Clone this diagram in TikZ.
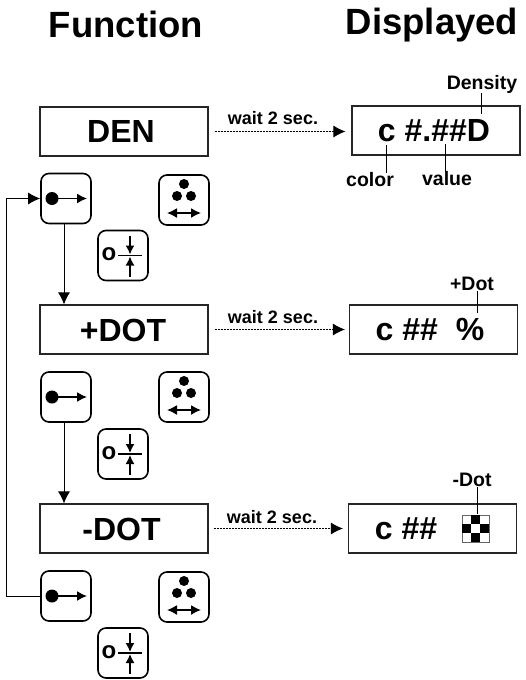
\documentclass[tikz,border=0pt]{standalone}
\usepackage{fontspec}
\setmainfont{Liberation Sans}
\usetikzlibrary{arrows.meta, calc, positioning}
\tikzstyle{fnbox} = [draw=black!85, line width=1.1pt, minimum width=168pt, minimum height=49pt, inner sep=0pt]
\tikzstyle{showbox} = [draw=black!85, line width=1.1pt, minimum width=168pt, minimum height=49pt, inner sep=0pt]
\tikzstyle{boxtxt} = [inner sep=0pt, font=\fontsize{32}{32}\selectfont\bfseries]
\tikzstyle{keybox} = [draw=black, line width=1.6pt, rounded corners=8pt, minimum size=50pt, inner sep=0pt]
\tikzstyle{head} = [inner sep=0pt, font=\fontsize{36.5}{37}\selectfont\bfseries]
\tikzstyle{tag} = [inner sep=0pt, font=\fontsize{19.5}{20}\selectfont\bfseries]
\tikzstyle{waitlabel} = [inner sep=0pt, font=\fontsize{18}{18}\selectfont\bfseries]
\tikzstyle{arrow} = [line width=0.9pt, -{Latex[length=12pt,width=12pt]}]
\tikzstyle{waitarrow} = [line width=0.9pt, dash pattern=on 2pt off 1pt, -{Latex[length=12pt,width=12pt]}]
\tikzstyle{icon} = [line width=1.5pt]
\tikzstyle{leader} = [line width=0.9pt]
\begin{document}
\begin{tikzpicture}[x=1pt, y=-1pt]
	\useasboundingbox (0,0) rectangle (526,680);
	% titles
	\node (titlefn) [head] at (126,24) {Function};
	\node (titleshow) [head] at (432,25) {Displayed};
	% function boxes
	\node (den) [fnbox] at (124,131.5) {};
	\node (plusdot) [fnbox] at (124,329.5) {};
	\node (minusdot) [fnbox] at (124,528.5) {};
	\node (dentxt) [boxtxt] at (121,131.5) {DEN};
	\node (plustxt) [boxtxt] at (123,330) {+DOT};
	\node (minustxt) [boxtxt] at (121.5,529) {-DOT};
	% displayed boxes
	\node (showden) [showbox] at (436,130.5) {};
	\node (showplus) [showbox] at (433.5,329.5) {};
	\node (showminus) [showbox] at (432.5,528.5) {};
	\node (txtden) [boxtxt] at (434,131) {c \#.\#\#D};
	\node (txtplus) [boxtxt] at (430,330) {c \#\#\ \ \%};
	\node (txtminus) [boxtxt] at (406,529) {c \#\#};
	% keys
	\foreach \k/\ya/\yb/\yc in {1/198.5/200/255.5, 2/397/397/454, 3/596/597/653}{
		\node (enter\k) [keybox] at (66,\ya) {};
		\fill ($(enter\k)+(-14,0)$) circle (6.5);
		\draw[icon, -{Latex[length=10pt,width=10pt]}] ($(enter\k)+(-14,0)$) -- ($(enter\k)+(21,0)$);
		\node (dots\k) [keybox] at (184,\yb) {};
		\fill ($(dots\k)+(0,-16)$) circle (5);
		\fill ($(dots\k)+(-7,-4)$) circle (5);
		\fill ($(dots\k)+(7,-4)$) circle (5);
		\draw[icon, {Latex[length=10pt,width=10pt]}-{Latex[length=10pt,width=10pt]}] ($(dots\k)+(-17,13)$) -- ($(dots\k)+(17,13)$);
		\node (zero\k) [keybox] at (123,\yc) {};
		\node (zerotxt\k) [inner sep=0pt, font=\fontsize{24}{24}\selectfont\bfseries] at ($(zero\k)+(-14,-1)$) {o};
		\draw[icon] ($(zero\k)+(-5,0)$) -- ($(zero\k)+(19,0)$);
		\draw[icon, -{Latex[length=9pt,width=9pt]}] ($(zero\k)+(7,-20)$) -- ($(zero\k)+(7,-1)$);
		\draw[icon, -{Latex[length=9pt,width=9pt]}] ($(zero\k)+(7,21)$) -- ($(zero\k)+(7,1)$);
	}
	% flow
	\draw[arrow] ([xshift=-2pt]enter1.south) -- ([xshift=-2pt]enter1.south |- plusdot.north);
	\draw[arrow] ([xshift=-2pt]enter2.south) -- ([xshift=-2pt]enter2.south |- minusdot.north);
	\draw[arrow] (enter3.west) -| (6,198.5) -- (enter1.west);
	% wait 2 sec.
	\draw[waitarrow] ([xshift=6pt]den.east) -- ([xshift=-6pt]den.east -| showden.west);
	\draw[waitarrow] ([xshift=6pt]plusdot.east) -- ([xshift=-4pt]plusdot.east -| showplus.west);
	\draw[waitarrow] ([xshift=5pt]minusdot.east) -- ([xshift=-5pt]minusdot.east -| showminus.west);
	\node (wait1) [waitlabel] at (273,118) {wait 2 sec.};
	\node (wait2) [waitlabel] at (273,317) {wait 2 sec.};
	\node (wait3) [waitlabel] at (272,517) {wait 2 sec.};
	% labels
	\node (density) [tag] at (482,84) {Density};
	\node (color) [tag] at (370,180) {color};
	\node (value) [tag] at (447,179) {value};
	\node (plustag) [tag] at (472,284) {+Dot};
	\node (minustag) [tag] at (472,480) {-Dot};
	\coordinate (cden) at (481,114);
	\coordinate (ccolor) at (386,145);
	\coordinate (cvalue) at (445,144);
	\coordinate (cplus) at (477,313);
	\coordinate (cminus) at (477,514);
	\draw[leader] (density.south -| cden) -- (cden);
	\draw[leader] (color.north -| ccolor) -- (ccolor);
	\draw[leader] (value.north -| cvalue) -- (cvalue);
	\draw[leader] (plustag.south -| cplus) -- (cplus);
	\draw[leader] (minustag.south -| cminus) -- (cminus);
	% dither square
	\node (dither) [draw=black!60, line width=0.5pt, minimum size=27pt, inner sep=0pt, anchor=north west] at (462,515) {};
	\fill ($(dither.north west)+(9,0)$) rectangle +(9,9);
	\fill ($(dither.north west)+(0,9)$) rectangle +(9,9);
	\fill ($(dither.north west)+(18,9)$) rectangle +(9,9);
	\fill ($(dither.north west)+(9,18)$) rectangle +(9,9);
\end{tikzpicture}
\end{document}
